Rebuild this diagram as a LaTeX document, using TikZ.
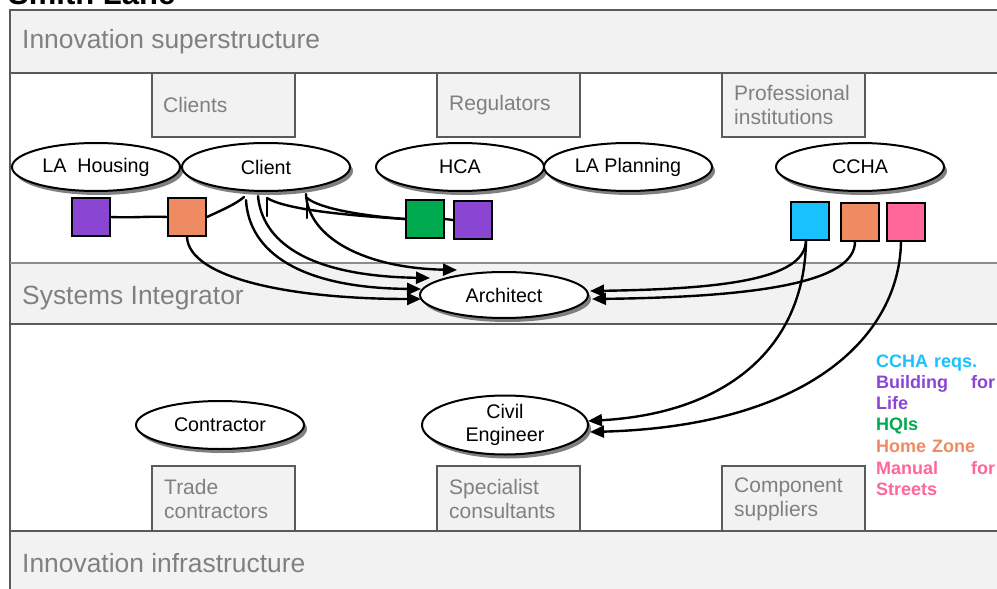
\documentclass[tikz,border=0pt]{standalone}
\usepackage{fontspec}
\setmainfont{Liberation Sans}
\usetikzlibrary{shapes.geometric,shadows,arrows.meta}

\definecolor{bandfill}{HTML}{F2F2F2}
\definecolor{bandline}{HTML}{5A5A5A}
\definecolor{labelgray}{HTML}{808080}
\definecolor{shadowgray}{HTML}{7F7F7F}
\definecolor{sqpurple}{HTML}{8B45D3}
\definecolor{sqorange}{HTML}{EF8B62}
\definecolor{sqgreen}{HTML}{00AA4F}
\definecolor{sqcyan}{HTML}{19C1FF}
\definecolor{sqpink}{HTML}{FF6699}

\tikzset{
  bandst/.style={draw=bandline, line width=1.5pt},
  groupbox/.style={draw=bandline, fill=bandfill, line width=1.5pt},
  bandlabel/.style={anchor=west, inner sep=0pt, text=labelgray, font=\fontsize{26.4}{31}\selectfont},
  boxlabel/.style={anchor=west, inner sep=0pt, text=labelgray, align=left, font=\fontsize{21}{24}\selectfont},
  actor/.style={ellipse, draw=black, line width=2pt, fill=white, inner sep=0pt,
    minimum width=168pt, minimum height=48pt, align=center,
    font=\fontsize{19.7}{23}\selectfont,
    drop shadow={shadow xshift=3pt, shadow yshift=-4pt, fill=shadowgray, opacity=1}},
  req/.style={draw=black, line width=2pt, minimum size=38pt, inner sep=0pt},
  conn/.style={line width=2.4pt, line cap=round},
  arr/.style={conn, -{Triangle[length=14pt,width=12pt]}},
  legend/.style={anchor=base west, inner sep=0pt, text width=119pt, align=left,
    font=\bfseries\fontsize{18}{21}\selectfont}
}

\begin{document}
\begin{tikzpicture}[x=1pt, y=-1pt]
\useasboundingbox (0,0) rectangle (997,589);
\clip (0,0) rectangle (997,589);

% title, partly above the page edge
\node[anchor=base west, inner sep=0pt, font=\bfseries\fontsize{31}{36}\selectfont] (title) at (8,5) {Smith Lane};

% horizontal bands
\fill[bandfill] (10,10) rectangle (997,73);
\fill[bandfill] (10,263) rectangle (997,324);
\fill[bandfill] (10,531) rectangle (997,589);
\draw[bandst] (997,10) -- (10,10) -- (10,589);
\draw[bandst] (10,73) -- (997,73);
\draw[bandst, draw=bandline!70] (10,263) -- (997,263);
\draw[bandst] (10,324) -- (997,324);
\draw[bandst] (10,531) -- (997,531);

\node[bandlabel] (superstructure) at (22,42) {Innovation superstructure};
\node[bandlabel] (integrator) at (22,298) {Systems Integrator};
\node[bandlabel] (infrastructure) at (22,563) {Innovation infrastructure};

% group boxes hanging from the top band
\draw[groupbox] (152,73) rectangle (295,137);
\draw[groupbox] (437,73) rectangle (580,137);
\draw[groupbox] (722,73) rectangle (865,137);
\node[boxlabel] (clients) at (163,105) {Clients};
\node[boxlabel] (regulators) at (449,105) {Regulators};
\node[boxlabel] (profinst) at (734,105) {Professional\\institutions};

% group boxes standing on the bottom band
\draw[groupbox] (152,466) rectangle (295,531);
\draw[groupbox] (437,466) rectangle (580,531);
\draw[groupbox] (722,466) rectangle (865,531);
\node[boxlabel] (trade) at (164,499) {Trade\\contractors};
\node[boxlabel] (specialist) at (449,499) {Specialist\\consultants};
\node[boxlabel] (component) at (734,499) {Component\\suppliers};

% actors
\node[actor] (lahousing) at (96,167) {LA\ \ Housing};
\node[actor] (client) at (266,167) {Client};
\node[actor] (hca) at (460,167) {HCA};
\node[actor] (laplanning) at (628,167) {LA Planning};
\node[actor] (ccha) at (860,167) {CCHA};
\node[actor, minimum height=46pt] (architect) at (504,295) {Architect};
\node[actor] (contractor) at (220,425) {Contractor};
\node[actor, minimum width=166pt, minimum height=59pt] (civil) at (505,425) {Civil\\Engineer};

% requirement squares
\node[req, fill=sqpurple] (bflA) at (91,217) {};
\node[req, fill=sqorange] (hzA) at (187,217) {};
\node[req, fill=sqgreen] (hqi) at (425,219) {};
\node[req, fill=sqpurple] (bflB) at (473,220) {};
\node[req, fill=sqcyan] (cchareq) at (810,221) {};
\node[req, fill=sqorange] (hzB) at (860,222) {};
\node[req, fill=sqpink] (mfs) at (906,222) {};

% attachment points on the ellipses
\coordinate (cIn1) at (244,197);
\coordinate (cIn2) at (267,198);
\coordinate (cIn3) at (307,198);
\coordinate (cOut1) at (246,200);
\coordinate (cOut2) at (258,196);
\coordinate (cOut3) at (306,194);
\coordinate (aIn0) at (457,270);
\coordinate (aIn1) at (430,278);
\coordinate (aIn2) at (421,289);
\coordinate (aIn3) at (421,299);
\coordinate (aR1) at (590,291);
\coordinate (aR2) at (592,299);
\coordinate (ceR1) at (588,421);
\coordinate (ceR2) at (590,432);
\coordinate (cyanOut) at (806,240);
\coordinate (orangeOut) at (855,241);
\coordinate (pinkOut) at (901,241);

% links into the client
\draw[conn] (bflA.east) .. controls (135,218) and (150,216) .. (hzA.west);
\draw[conn] (hzA.east) .. controls (222,210) and (236,204) .. (cIn1);
\draw[conn] (hqi.west) .. controls (340,215) and (285,209) .. (cIn2);
\draw[conn] (hqi.west) .. controls (365,216) and (320,209) .. (cIn3);
\draw[conn] (cIn2) -- ++(0,18);
\draw[conn] (cIn3) -- ++(0,20);
\draw[conn] (hqi.east) -- (bflB.west);

% links into the architect
\draw[arr] (cOut1) .. controls (249,252) and (300,288) .. (aIn2);
\draw[arr] (cOut2) .. controls (262,240) and (305,276) .. (aIn1);
\draw[arr] (cOut3) .. controls (308,238) and (365,268) .. (aIn0);
\draw[arr] (hzA.south) .. controls (189,278) and (290,299) .. (aIn3);
\draw[arr] (cyanOut) .. controls (806,280) and (720,289) .. (aR1);
\draw[arr] (orangeOut) .. controls (856,282) and (760,297) .. (aR2);

% links into the civil engineer
\draw[arr] (cyanOut) .. controls (805,345) and (730,413) .. (ceR1);
\draw[arr] (pinkOut) .. controls (900,335) and (810,426) .. (ceR2);

% legend
\node[legend, text=sqcyan] (leg1) at (876,367) {CCHA reqs.};
\node[legend, text=sqpurple] (leg2) at (876,388) {Building\hfill for};
\node[legend, text=sqpurple] (leg3) at (876,409) {Life};
\node[legend, text=sqgreen] (leg4) at (876,430) {HQIs};
\node[legend, text=sqorange] (leg5) at (876,452) {Home Zone};
\node[legend, text=sqpink] (leg6) at (876,474) {Manual\hfill for};
\node[legend, text=sqpink] (leg7) at (876,495) {Streets};
\end{tikzpicture}
\end{document}
